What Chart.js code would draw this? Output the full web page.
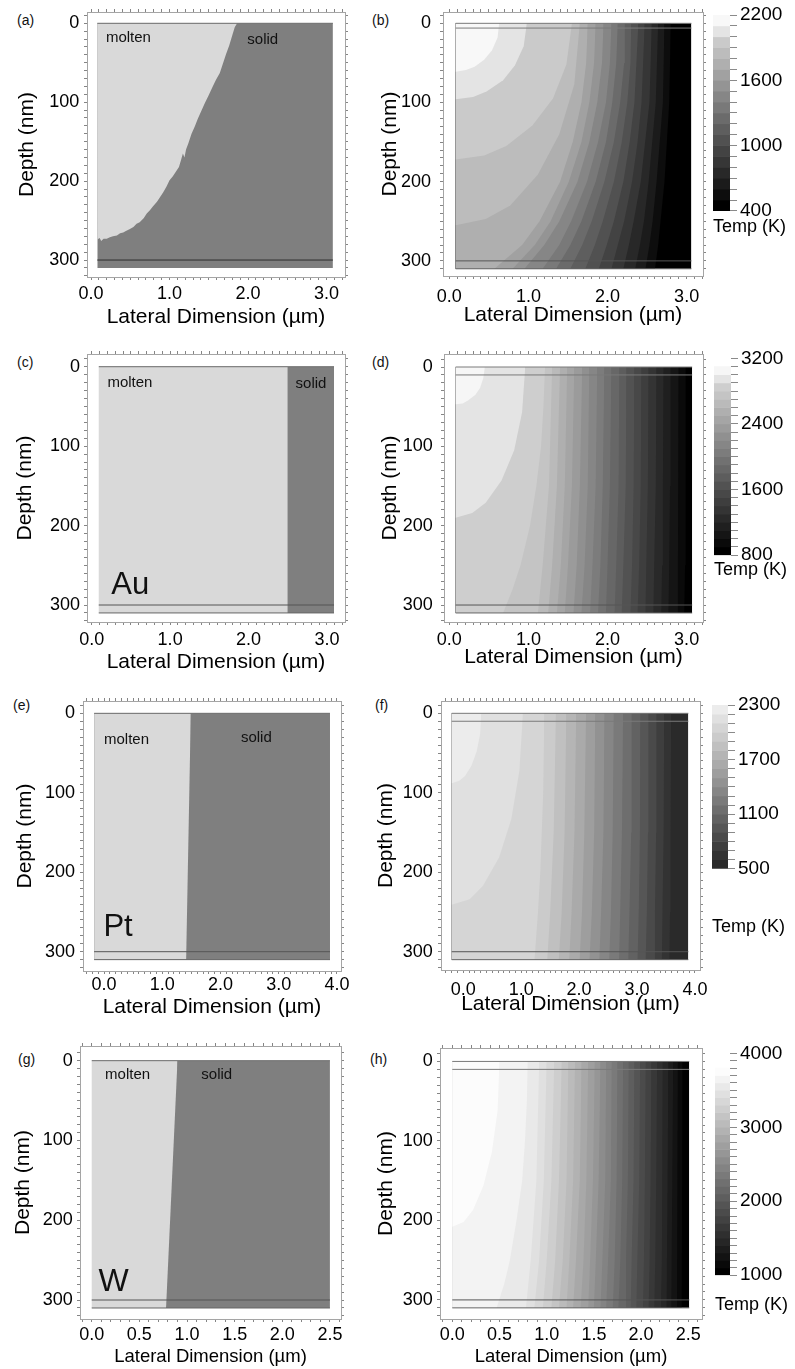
<!DOCTYPE html>
<html>
<head>
<meta charset="utf-8">
<script src="https://cdn.jsdelivr.net/npm/chart.js@4.4.0/dist/chart.umd.min.js"></script>
<style>
  html, body { margin: 0; padding: 0; background: #fff; overflow: hidden; }
  #fig { position: relative; width: 795px; height: 1369px; font-family: 'Liberation Sans', Arial, sans-serif; }
  #fig canvas { position: absolute; }
  .tag { position: absolute; font-size: 14px; line-height: 16px; color: #111; }
</style>
</head>
<body>
<div id="fig">
  <div class="tag" style="left:17px;top:12px">(a)</div>
  <div class="tag" style="left:372px;top:12px">(b)</div>
  <div class="tag" style="left:17px;top:354px">(c)</div>
  <div class="tag" style="left:372px;top:354px">(d)</div>
  <div class="tag" style="left:13px;top:697px">(e)</div>
  <div class="tag" style="left:375px;top:697px">(f)</div>
  <div class="tag" style="left:18px;top:1051px">(g)</div>
  <div class="tag" style="left:370px;top:1051px">(h)</div>
</div>
<script>
// ---- melt fronts: [lateral µm, depth nm] ----
const aMeltFront = [[0.08,274],[0.11,272],[0.13,276],[0.16,273],[0.20,273],[0.24,271],[0.28,270],[0.33,269],
  [0.37,266],[0.41,265],[0.45,263],[0.49,261],[0.54,258],[0.58,254],[0.62,252],[0.67,247],[0.71,241],
  [0.75,237],[0.79,232],[0.84,226],[0.88,220],[0.92,214],[0.96,207],[1.00,199],[1.04,194],[1.08,188],
  [1.12,182],[1.15,172],[1.17,165],[1.19,170],[1.21,160],[1.24,152],[1.28,140],[1.32,131],[1.36,121],
  [1.40,112],[1.45,101],[1.50,91],[1.55,80],[1.59,72],[1.64,63],[1.68,51],[1.72,39],[1.76,28],
  [1.80,15],[1.83,5],[1.86,0]];
const cMeltFront = [[0.09,310],[2.50,310],[2.50,0]];
const eMeltFront = [[-0.17,310],[1.41,310],[1.49,0]];
const gMeltFront = [[0.00,310],[0.78,310],[0.90,0]];

// ---- temperature contours, hottest first: [lateral µm, depth nm] ----
const bContours = [
  [[0.08,61],[0.21,59],[0.32,55],[0.44,46],[0.54,34],[0.61,18],[0.63,0]],
  [[0.08,96],[0.30,93],[0.47,86],[0.68,72],[0.83,53],[0.94,29],[0.98,0]],
  [[0.08,172],[0.44,167],[0.72,155],[1.05,129],[1.31,95],[1.48,52],[1.55,0]],
  [[0.08,255],[0.46,247],[0.77,230],[1.12,191],[1.39,140],[1.58,77],[1.65,0]],
  [[0.57,310],[0.92,280],[1.14,250],[1.40,200],[1.56,150],[1.67,100],[1.73,50],[1.75,0]],
  [[0.80,310],[1.08,280],[1.28,250],[1.51,200],[1.67,150],[1.77,100],[1.83,50],[1.85,0]],
  [[0.95,310],[1.20,280],[1.39,250],[1.62,200],[1.77,150],[1.87,100],[1.93,50],[1.95,0]],
  [[1.18,310],[1.39,280],[1.54,250],[1.74,200],[1.88,150],[1.98,100],[2.03,50],[2.05,0]],
  [[1.35,310],[1.53,280],[1.67,250],[1.85,200],[1.98,150],[2.06,100],[2.11,50],[2.13,0]],
  [[1.53,310],[1.68,280],[1.80,250],[1.96,200],[2.08,150],[2.16,100],[2.21,50],[2.22,0]],
  [[1.72,310],[1.84,280],[1.94,250],[2.08,200],[2.18,150],[2.25,100],[2.29,50],[2.30,0]],
  [[1.89,310],[1.99,280],[2.08,250],[2.20,200],[2.28,150],[2.34,100],[2.39,0]],
  [[2.05,310],[2.13,280],[2.21,250],[2.31,200],[2.38,150],[2.43,100],[2.47,0]],
  [[2.20,310],[2.27,280],[2.33,250],[2.42,200],[2.53,100],[2.56,0]],
  [[2.35,310],[2.41,280],[2.46,250],[2.52,200],[2.61,100],[2.64,0]],
  [[2.48,310],[2.53,280],[2.57,250],[2.62,200],[2.70,100],[2.72,0]],
  [[2.60,310],[2.64,280],[2.67,250],[2.72,200],[2.78,100],[2.80,0]]
];
const bLevels = [2200,2100,2000,1900,1800,1700,1600,1500,1400,1300,1200,1100,1000,900,800,700,600,500,400];
const bGrays = [248,228,202,188,175,161,148,134,121,107,94,81,67,54,40,27,13,0];
const bTempTicks = [400,1000,1600,2200];

const dContours = [
  [[0.08,47],[0.17,46],[0.24,42],[0.33,35],[0.39,26],[0.43,14],[0.45,0]],
  [[0.08,190],[0.29,184],[0.46,171],[0.66,143],[0.82,105],[0.92,57],[0.96,0]],
  [[0.68,310],[0.80,280],[0.90,250],[1.02,200],[1.10,150],[1.16,100],[1.19,50],[1.21,0]],
  [[1.12,310],[1.18,250],[1.26,150],[1.30,0]],
  [[1.25,310],[1.30,250],[1.36,150],[1.40,0]],
  [[1.36,310],[1.41,250],[1.46,150],[1.49,0]],
  [[1.46,310],[1.50,250],[1.55,150],[1.58,0]],
  [[1.57,310],[1.61,250],[1.65,150],[1.68,0]],
  [[1.67,310],[1.71,250],[1.75,150],[1.77,0]],
  [[1.78,310],[1.81,250],[1.85,150],[1.87,0]],
  [[1.88,310],[1.91,250],[1.94,150],[1.96,0]],
  [[1.98,310],[2.00,250],[2.03,150],[2.05,0]],
  [[2.09,310],[2.11,250],[2.14,150],[2.15,0]],
  [[2.18,310],[2.20,250],[2.23,150],[2.24,0]],
  [[2.29,310],[2.31,250],[2.33,150],[2.34,0]],
  [[2.38,310],[2.40,250],[2.42,150],[2.43,0]],
  [[2.48,310],[2.49,250],[2.51,150],[2.52,0]],
  [[2.58,310],[2.59,250],[2.61,150],[2.62,0]],
  [[2.68,310],[2.69,250],[2.70,150],[2.71,0]],
  [[2.77,310],[2.78,250],[2.79,150],[2.80,0]],
  [[2.88,310],[2.89,250],[2.90,0]],
  [[2.97,310],[2.98,250],[2.99,0]]
];
const dLevels = [3100,3000,2900,2800,2700,2600,2500,2400,2300,2200,2100,2000,1900,1800,1700,1600,1500,1400,1300,1200,1100,1000,900,800];
const dGrays = [246,228,206,196,186,175,165,155,144,134,124,113,103,93,82,72,62,52,41,31,21,10,0];
const dTempTicks = [800,1600,2400,3200];

const fContours = [
  [[-0.20,88],[-0.07,85],[0.03,79],[0.14,66],[0.23,48],[0.29,26],[0.31,0]],
  [[-0.20,241],[0.11,234],[0.34,217],[0.62,181],[0.83,133],[0.97,72],[1.03,0]],
  [[1.23,310],[1.29,250],[1.33,200],[1.38,100],[1.40,0]],
  [[1.45,310],[1.50,250],[1.56,150],[1.60,0]],
  [[1.65,310],[1.70,250],[1.75,150],[1.78,0]],
  [[1.83,310],[1.87,250],[1.92,150],[1.95,0]],
  [[2.01,310],[2.05,250],[2.09,150],[2.12,0]],
  [[2.18,310],[2.22,250],[2.26,150],[2.28,0]],
  [[2.35,310],[2.38,250],[2.42,150],[2.44,0]],
  [[2.52,310],[2.55,250],[2.58,150],[2.60,0]],
  [[2.69,310],[2.71,250],[2.74,150],[2.76,0]],
  [[2.85,310],[2.87,250],[2.90,150],[2.91,0]],
  [[3.01,310],[3.03,250],[3.05,150],[3.06,0]],
  [[3.15,310],[3.17,250],[3.19,150],[3.20,0]],
  [[3.30,310],[3.31,250],[3.33,150],[3.34,0]],
  [[3.43,310],[3.44,250],[3.46,150],[3.47,0]],
  [[3.56,310],[3.57,250],[3.58,150],[3.59,0]]
];
const fLevels = [2300,2200,2100,2000,1900,1800,1700,1600,1500,1400,1300,1200,1100,1000,900,800,700,600,500];
const fGrays = [236,224,213,203,192,181,170,158,146,134,122,110,98,86,74,62,51,42];
const fTempTicks = [500,1100,1700,2300];

const hContours = [
  [[0.00,208],[0.12,202],[0.22,187],[0.33,156],[0.42,114],[0.48,62],[0.50,0]],
  [[0.47,310],[0.55,280],[0.61,250],[0.68,200],[0.74,150],[0.77,100],[0.79,50],[0.80,0]],
  [[0.78,310],[0.83,250],[0.89,150],[0.92,0]],
  [[0.87,310],[0.92,250],[0.97,150],[1.00,0]],
  [[0.96,310],[1.00,250],[1.05,150],[1.08,0]],
  [[1.05,310],[1.09,250],[1.13,150],[1.16,0]],
  [[1.13,310],[1.17,250],[1.21,150],[1.23,0]],
  [[1.21,310],[1.24,250],[1.28,150],[1.30,0]],
  [[1.28,310],[1.31,250],[1.35,150],[1.37,0]],
  [[1.36,310],[1.39,250],[1.42,150],[1.44,0]],
  [[1.44,310],[1.46,250],[1.49,150],[1.51,0]],
  [[1.50,310],[1.52,250],[1.55,150],[1.57,0]],
  [[1.57,310],[1.59,250],[1.62,150],[1.63,0]],
  [[1.63,310],[1.65,250],[1.68,150],[1.69,0]],
  [[1.70,310],[1.72,250],[1.74,150],[1.75,0]],
  [[1.76,310],[1.78,250],[1.80,150],[1.81,0]],
  [[1.83,310],[1.84,250],[1.86,150],[1.87,0]],
  [[1.89,310],[1.90,250],[1.92,150],[1.93,0]],
  [[1.95,310],[1.96,250],[1.98,150],[1.99,0]],
  [[2.02,310],[2.03,250],[2.04,150],[2.05,0]],
  [[2.08,310],[2.09,250],[2.10,150],[2.11,0]],
  [[2.14,310],[2.15,250],[2.16,150],[2.17,0]],
  [[2.21,310],[2.22,250],[2.23,0]],
  [[2.27,310],[2.29,0]],
  [[2.32,310],[2.34,0]],
  [[2.38,310],[2.39,0]],
  [[2.43,310],[2.44,0]]
];
const hLevels = [3800,3700,3600,3500,3400,3300,3200,3100,3000,2900,2800,2700,2600,2500,2400,2300,2200,2100,2000,1900,1800,1700,1600,1500,1400,1300,1200,1100,1000];
const hGrays = [252,243,233,224,215,206,196,187,178,168,159,150,140,131,122,112,103,94,84,75,66,56,47,38,28,19,9,0];
const hTempTicks = [1000,2000,3000,4000];

const MOLTEN = '#d9d9d9';
const SOLID = '#7f7f7f';
const FONT = "'Liberation Sans', Arial, Helvetica, sans-serif";
const fig = document.getElementById('fig');
const gray = v => `rgb(${v},${v},${v})`;

function addCanvas(l, t, r, b) {
  const c = document.createElement('canvas');
  c.width = r - l;
  c.height = b - t;
  Object.assign(c.style, { left: l + 'px', top: t + 'px', width: (r - l) + 'px', height: (b - t) + 'px' });
  fig.appendChild(c);
  return c;
}

const onStep = (v, step) => Math.abs(v / step - Math.round(v / step)) < 1e-6;

// pin an axis box to a fixed size and drop the label overflow padding
function pinSize(prop, value) {
  return s => {
    s[prop] = value;
    s.paddingTop = s.paddingBottom = s.paddingLeft = s.paddingRight = 0;
  };
}

// small tick marks every `step` along the whole frame
function minorTicks(step) {
  return axis => {
    const ticks = [];
    for (let i = Math.ceil(axis.min / step - 1e-9); i * step <= axis.max + 1e-9; i++) {
      ticks.push({ value: Math.round(i * step * 1000) / 1000 });
    }
    axis.ticks = ticks;
  };
}

// region between a curve and the surface (depth 0)
function area(points, color) {
  return {
    data: points.map(([x, y]) => ({ x, y })),
    backgroundColor: color, fill: { value: 0 },
    borderWidth: 0, pointRadius: 0
  };
}

function rule(depth, x0, x1, color) {
  return {
    data: [{ x: x0, y: depth }, { x: x1, y: depth }],
    borderColor: color, borderWidth: 1, fill: false, pointRadius: 0
  };
}

function bands(contours, grays, x0, x1) {
  const sets = contours.map((c, k) => {
    const pts = c[0][1] === 310 ? [[x0, 310], ...c] : c;
    return area(pts, gray(grays[k]));
  });
  sets.push(area([[x0, 310], [x1, 310]], gray(grays[grays.length - 1])));
  return sets;
}

function notesPlugin(items) {
  return {
    id: 'notes',
    afterDatasetsDraw(chart) {
      const { ctx, scales } = chart;
      ctx.save();
      ctx.fillStyle = '#111';
      ctx.textAlign = 'left';
      ctx.textBaseline = 'middle';
      items.forEach(n => {
        ctx.font = `${n.size}px ${FONT}`;
        ctx.fillText(n.text, scales.x.getPixelForValue(n.x), scales.y.getPixelForValue(n.y));
      });
      ctx.restore();
    }
  };
}

function framePanel(p) {
  const [cl, ct, cr, cb] = p.canvas;
  const [fl, ft, fr, fb] = p.frame;
  const grid = { display: true, drawOnChartArea: false, drawTicks: true, tickLength: 3, color: '#858585', lineWidth: 1 };
  const border = { display: true, color: '#a5a5a5', width: 1 };
  const tickFont = { family: FONT, size: 18 };
  const xBase = { type: 'linear', min: p.x[0], max: p.x[1], bounds: 'data', afterBuildTicks: minorTicks(0.1), grid, border };
  const yBase = { type: 'linear', reverse: true, min: p.y[0], max: p.y[1], bounds: 'data', afterBuildTicks: minorTicks(10), grid, border };

  new Chart(addCanvas(cl, ct, cr, cb), {
    type: 'line',
    data: { datasets: p.datasets },
    options: {
      responsive: false, animation: false, events: [],
      layout: { padding: 0, autoPadding: false },
      plugins: { legend: { display: false }, tooltip: { enabled: false } },
      scales: {
        x: {
          ...xBase, position: 'bottom',
          ticks: { autoSkip: false, maxRotation: 0, padding: p.xTickPad, color: '#000', font: tickFont,
                   callback: v => onStep(v, p.xMajor) ? v.toFixed(1) : '' },
          title: { display: true, text: 'Lateral Dimension (µm)', color: '#000',
                   font: { family: FONT, size: p.xTitleSize }, padding: { top: 0, bottom: p.xTitlePad } },
          afterFit: pinSize('height', cb - fb)
        },
        x2: { ...xBase, position: 'top', ticks: { display: false }, afterFit: pinSize('height', ft - ct) },
        y: {
          ...yBase, position: 'left',
          ticks: { autoSkip: false, padding: p.yTickPad, color: '#000', font: tickFont,
                   callback: v => onStep(v, 100) ? String(v) : '' },
          title: { display: true, text: 'Depth (nm)', color: '#000',
                   font: { family: FONT, size: 21 }, padding: { top: p.yTitlePad, bottom: 0 } },
          afterFit: pinSize('width', fl - cl)
        },
        y2: { ...yBase, position: 'right', ticks: { display: false }, afterFit: pinSize('width', cr - fr) }
      }
    },
    plugins: [notesPlugin(p.notes || [])]
  });
}

function colorBar(p) {
  const [cl, ct, cr, cb] = p.canvas;
  const datasets = p.grays.map((g, i) => ({
    data: [[p.levels[i + 1], p.levels[i]]],
    backgroundColor: gray(g), borderWidth: 0, grouped: false,
    barPercentage: 1, categoryPercentage: 1
  }));
  new Chart(addCanvas(cl, ct, cr, cb), {
    type: 'bar',
    data: { labels: [''], datasets },
    options: {
      responsive: false, animation: false, events: [],
      layout: { padding: { top: p.padTop, right: 0, bottom: 0, left: 0 }, autoPadding: false },
      plugins: {
        legend: { display: false }, tooltip: { enabled: false },
        title: { display: true, text: 'Temp (K)', position: 'bottom', align: 'start', color: '#000',
                 font: { family: FONT, size: 18, weight: 'normal' }, padding: { top: p.titleGap, bottom: 2 } }
      },
      scales: {
        x: { display: false },
        y: {
          type: 'linear', position: 'right', min: p.ticks[0], max: p.ticks[p.ticks.length - 1],
          ticks: { stepSize: 100, autoSkip: false, padding: 3, color: '#000', font: { family: FONT, size: 19 },
                   callback: v => p.ticks.includes(v) ? String(v) : '' },
          grid: { display: true, drawOnChartArea: false, tickLength: 7, color: '#8a8a8a' },
          border: { display: false },
          afterFit: pinSize('width', cr - p.barRight)
        }
      }
    }
  });
}

// (a) melt front, first metal
framePanel({
  canvas: [0, 4, 353, 332], frame: [87, 12, 345, 277], x: [-0.051, 3.234], y: [-14.3, 321.5],
  xMajor: 1, xTitleSize: 21, xTickPad: 3.7, xTitlePad: 1.9, yTickPad: 4.7, yTitlePad: 14.4,
  datasets: [
    rule(300, 0.08, 3.08, '#2e2e2e'), rule(0, 0.08, 3.08, '#6e6e6e'),
    area(aMeltFront, MOLTEN), area([[0.08, 310], [3.08, 310]], SOLID)
  ],
  notes: [{ text: 'molten', x: 0.19, y: 19, size: 15 }, { text: 'solid', x: 1.99, y: 21, size: 15 }]
});

// (b) temperature field
framePanel({
  canvas: [360, 4, 711, 330], frame: [443, 12, 703, 276], x: [-0.080, 3.207], y: [-14.3, 319.1],
  xMajor: 1, xTitleSize: 21, xTickPad: 6.9, xTitlePad: 2.4, yTickPad: 9, yTitlePad: 17.4,
  datasets: [
    rule(0, 0.08, 3.06, '#7a7a7a'), rule(6, 0.08, 3.06, '#7a7a7a'),
    rule(300, 0.08, 3.06, '#555'), rule(310, 0.08, 3.06, '#666'),
    ...bands(bContours, bGrays, 0.08, 3.06)
  ]
});
colorBar({ canvas: [713, 3, 795, 240], barRight: 730, padTop: 12, titleGap: 5.5,
           levels: bLevels, grays: bGrays, ticks: bTempTicks });

// (c) Au melt front
framePanel({
  canvas: [0, 346, 353, 677], frame: [87, 354, 345, 622], x: [-0.060, 3.230], y: [-16.0, 321.4],
  xMajor: 1, xTitleSize: 21, xTickPad: 4.2, xTitlePad: 1.9, yTickPad: 4, yTitlePad: 12.4,
  datasets: [
    rule(0, 0.09, 3.09, '#6e6e6e'), rule(300, 0.09, 3.09, '#555'), rule(310, 0.09, 3.09, '#666'),
    area(cMeltFront, MOLTEN), area([[0.09, 310], [3.09, 310]], SOLID)
  ],
  notes: [{ text: 'molten', x: 0.20, y: 20, size: 15 }, { text: 'solid', x: 2.60, y: 22, size: 15 },
          { text: 'Au', x: 0.25, y: 275, size: 31 }]
});

// (d) Au temperature field
framePanel({
  canvas: [360, 346, 711, 672], frame: [444, 354, 703, 622], x: [-0.067, 3.207], y: [-16.4, 321.4],
  xMajor: 1, xTitleSize: 21, xTickPad: 4.7, xTitlePad: 1.9, yTickPad: 8.3, yTitlePad: 17.4,
  datasets: [
    rule(0, 0.08, 3.07, '#7a7a7a'), rule(10, 0.08, 3.07, '#7a7a7a'),
    rule(300, 0.08, 3.07, '#555'), rule(310, 0.08, 3.07, '#666'),
    ...bands(dContours, dGrays, 0.08, 3.07)
  ]
});
colorBar({ canvas: [714, 346, 795, 583], barRight: 731, padTop: 12.3, titleGap: 4.2,
           levels: dLevels, grays: dGrays, ticks: dTempTicks });

// (e) Pt melt front
framePanel({
  canvas: [0, 693, 349, 1022], frame: [83, 701, 341, 971], x: [-0.361, 4.069], y: [-15.5, 324.3],
  xMajor: 1, xTitleSize: 21, xTickPad: 0.5, xTitlePad: 1.9, yTickPad: 5, yTitlePad: 12.4,
  datasets: [
    rule(0, -0.17, 3.88, '#6e6e6e'), rule(300, -0.17, 3.88, '#555'), rule(310, -0.17, 3.88, '#666'),
    area(eMeltFront, MOLTEN), area([[-0.17, 310], [3.88, 310]], SOLID)
  ],
  notes: [{ text: 'molten', x: 0.00, y: 34, size: 15 }, { text: 'solid', x: 2.35, y: 31, size: 15 },
          { text: 'Pt', x: -0.01, y: 270, size: 31 }]
});

// (f) Pt temperature field
framePanel({
  canvas: [360, 693, 708, 1019], frame: [441, 701, 700, 970], x: [-0.385, 4.088], y: [-15.5, 323],
  xMajor: 1, xTitleSize: 21, xTickPad: 6.2, xTitlePad: 2.4, yTickPad: 5.3, yTitlePad: 13.4,
  datasets: [
    rule(0, -0.20, 3.886, '#7a7a7a'), rule(10, -0.20, 3.886, '#7a7a7a'),
    rule(300, -0.20, 3.886, '#555'), rule(310, -0.20, 3.886, '#666'),
    ...bands(fContours, fGrays, -0.20, 3.886)
  ]
});
colorBar({ canvas: [712, 693, 795, 940], barRight: 728, padTop: 12, titleGap: 47.6,
           levels: fLevels, grays: fGrays, ticks: fTempTicks });

// (g) W melt front
framePanel({
  canvas: [0, 1038, 349, 1369], frame: [80, 1046, 341, 1319], x: [-0.123, 2.616], y: [-18.4, 323.8],
  xMajor: 0.5, xTitleSize: 18.5, xTickPad: 2.2, xTitlePad: 1.2, yTickPad: 4.3, yTitlePad: 10.4,
  datasets: [
    rule(0, 0, 2.5, '#6e6e6e'), rule(300, 0, 2.5, '#555'), rule(310, 0, 2.5, '#666'),
    area(gMeltFront, MOLTEN), area([[0, 310], [2.5, 310]], SOLID)
  ],
  notes: [{ text: 'molten', x: 0.14, y: 18, size: 15 }, { text: 'solid', x: 1.15, y: 18, size: 15 },
          { text: 'W', x: 0.07, y: 278, size: 32 }]
});

// (h) W temperature field
framePanel({
  canvas: [360, 1040, 710, 1369], frame: [440, 1048, 702, 1319], x: [-0.130, 2.645], y: [-16.9, 324],
  xMajor: 0.5, xTitleSize: 18.5, xTickPad: 2.2, xTitlePad: 1.2, yTickPad: 4.3, yTitlePad: 13.4,
  datasets: [
    rule(0, 0, 2.51, '#7a7a7a'), rule(10, 0, 2.51, '#7a7a7a'),
    rule(300, 0, 2.51, '#555'), rule(310, 0, 2.51, '#666'),
    ...bands(hContours, hGrays, 0, 2.51)
  ]
});
colorBar({ canvas: [715, 1041, 795, 1318], barRight: 730, padTop: 12.3, titleGap: 19.2,
           levels: hLevels, grays: hGrays, ticks: hTempTicks });
</script>
</body>
</html>
